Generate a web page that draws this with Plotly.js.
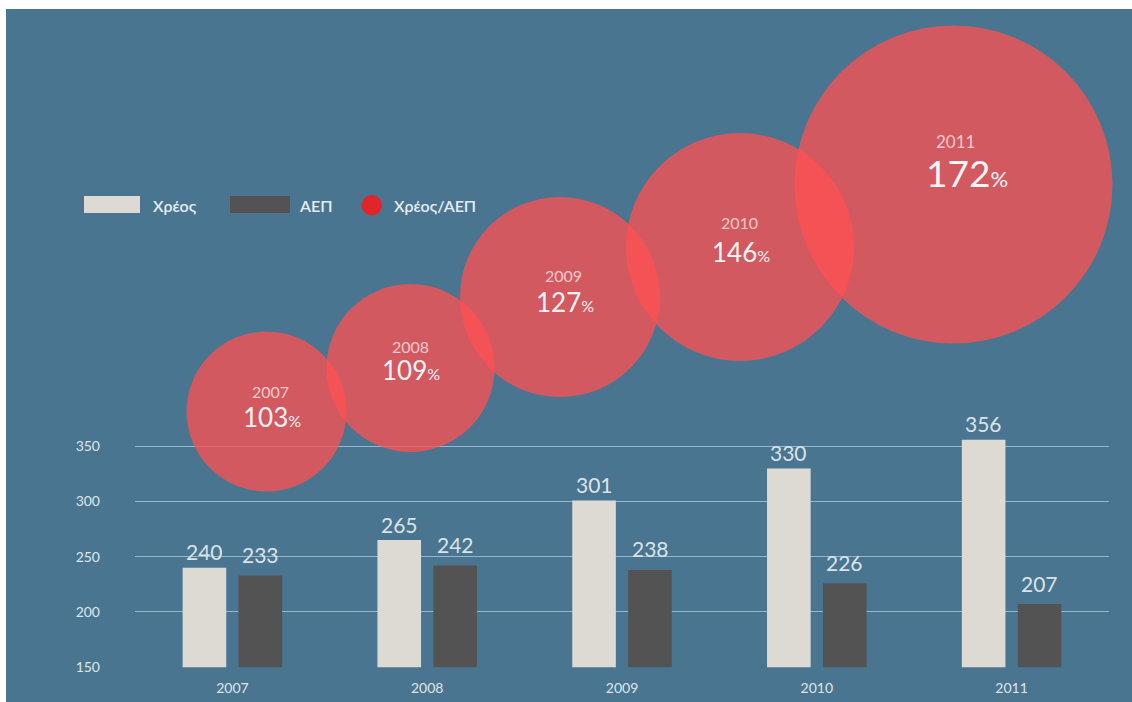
<!DOCTYPE html>
<html>
<head>
<meta charset="utf-8">
<script src="https://cdn.plot.ly/plotly-3.0.1.min.js"></script>
<style>
  html, body { margin:0; padding:0; background:#ffffff; width:1132px; height:702px; overflow:hidden; }
  #chart { position:absolute; left:6px; top:9px; width:1126px; height:693px; }
</style>
</head>
<body>
<div id="chart"></div>
<script>
// ---------------- DATA ----------------
const years = [2007, 2008, 2009, 2010, 2011];
const debt  = [240, 265, 301, 330, 356];   // Χρέος
const gdp   = [233, 242, 238, 226, 207];   // ΑΕΠ
const ratio = [103, 109, 127, 146, 172];   // Χρέος/ΑΕΠ (%)
const yTicks = [150, 200, 250, 300, 350];
const seriesNames = ['Χρέος', 'ΑΕΠ', 'Χρέος/ΑΕΠ'];

// ---------------- LAYOUT / STYLE (image pixel units) ----------------
const bubbleCx = [266.5, 410.5, 560, 740, 953.5];
const bubbleCy = [411.5, 368, 297, 247, 184.5];
const bubbleD  = [160, 168, 200, 228, 318];
const yearOff  = [[3.5, -20], [0, -22], [3, -22], [-1, -25], [1.5, -43]];
const valOff   = [[5.5, 5], [0.5, 2], [4.5, 4.7], [0.7, 4.7], [13.5, -12]];
const valFont  = [26, 26, 26, 26, 37];
const yearFont = [16, 16, 16, 16, 17];
const debtLabelShift = 16, gdpLabelShift = 21;

const BG = '#4a7591';
const FONT = 'Lato, "Open Sans", sans-serif';
const LIGHT = '#dcdad3';
const DARK = '#545353';
const W = 1126, H = 693, OX = 6, OY = 9;
const px = x => (x - OX) / W;
const py = y => 1 - (y - OY) / H;

const traces = [
  { type:'bar', name:seriesNames[0], x:years, y:debt, marker:{color:LIGHT, line:{width:0}},
    hoverinfo:'skip', showlegend:false },
  { type:'bar', name:seriesNames[1], x:years, y:gdp, marker:{color:DARK, line:{width:0}},
    hoverinfo:'skip', showlegend:false },
  { type:'scatter', mode:'markers', name:seriesNames[2], xaxis:'x2', yaxis:'y2',
    x:bubbleCx, y:bubbleCy, cliponaxis:false, hoverinfo:'skip', showlegend:false,
    marker:{size:bubbleD, sizemode:'diameter', color:'rgb(255,80,82)', opacity:0.76, line:{width:0}} }
];

const annotations = [];
// bar value labels
years.forEach((yr, i) => {
  annotations.push({ xref:'x', yref:'y', x:yr, y:debt[i], xshift:-28, yshift:debtLabelShift, text:String(debt[i]),
    showarrow:false, xanchor:'center', yanchor:'middle', font:{family:FONT, size:21, color:'#dbe3e8'} });
  annotations.push({ xref:'x', yref:'y', x:yr, y:gdp[i], xshift:28, yshift:gdpLabelShift, text:String(gdp[i]),
    showarrow:false, xanchor:'center', yanchor:'middle', font:{family:FONT, size:21, color:'#dbe3e8'} });
});
// bubble labels
years.forEach((yr, i) => {
  annotations.push({ xref:'x2', yref:'y2', x:bubbleCx[i] + yearOff[i][0], y:bubbleCy[i] + yearOff[i][1],
    text:String(yr), showarrow:false, xanchor:'center', yanchor:'middle',
    font:{family:FONT, size:yearFont[i], color:'#f6caca'} });
  const pct = Math.round(valFont[i] * 0.6);
  annotations.push({ xref:'x2', yref:'y2', x:bubbleCx[i] + valOff[i][0], y:bubbleCy[i] + valOff[i][1],
    text: ratio[i] + '<span style="font-size:' + pct + 'px">%</span>', showarrow:false,
    xanchor:'center', yanchor:'middle', font:{family:FONT, size:valFont[i], color:'#fff4f4'} });
});
// legend texts
const legFont = {family:FONT, size:16, color:'#e6edf1', weight:600};
annotations.push({ xref:'paper', yref:'paper', x:px(150.5), y:py(205), text:seriesNames[0], showarrow:false,
  xanchor:'left', yanchor:'middle', font:legFont });
annotations.push({ xref:'paper', yref:'paper', x:px(296.5), y:py(205), text:seriesNames[1], showarrow:false,
  xanchor:'left', yanchor:'middle', font:legFont });
annotations.push({ xref:'paper', yref:'paper', x:px(391.5), y:py(205), text:seriesNames[2], showarrow:false,
  xanchor:'left', yanchor:'middle', font:legFont });

const shapes = [
  { type:'rect', xref:'paper', yref:'paper', x0:px(84), x1:px(140), y0:py(196), y1:py(213),
    fillcolor:LIGHT, line:{width:0} },
  { type:'rect', xref:'paper', yref:'paper', x0:px(230), x1:px(290), y0:py(196), y1:py(213),
    fillcolor:DARK, line:{width:0} },
  { type:'circle', xref:'paper', yref:'paper', x0:px(361.5), x1:px(382), y0:py(195), y1:py(215.5),
    fillcolor:'#e0262b', line:{width:0} }
];

const layout = {
  width:W, height:H,
  margin:{l:0, r:0, t:0, b:0, pad:0},
  paper_bgcolor:BG, plot_bgcolor:'rgba(0,0,0,0)',
  font:{family:FONT, color:'#dfe6ea'},
  showlegend:false,
  barmode:'group', bargap:0.426, bargroupgap:0.22,
  xaxis:{ type:'linear', domain:[px(135), px(1109)], range:[years[0] - 0.5, years[years.length - 1] + 0.5],
    tickvals:years, ticktext:years.map(String), showgrid:false, zeroline:false, showline:false,
    ticks:'', tickfont:{family:FONT, size:14, color:'#dfe6ea'}, ticklabelstandoff:11, fixedrange:true },
  yaxis:{ domain:[py(667.3), 1], range:[149.7, 149.7 + (667.3 - 9) / 1.103], tickvals:yTicks,
    showgrid:true, gridcolor:'#93b7cc', gridwidth:1, zeroline:false, showline:false, ticks:'',
    tickfont:{family:FONT, size:14, color:'#dfe6ea'}, ticklabelstandoff:34, fixedrange:true },
  xaxis2:{ anchor:'y2', domain:[0,1], range:[OX, OX + W], visible:false, fixedrange:true },
  yaxis2:{ anchor:'x2', domain:[0,1], range:[OY + H, OY], visible:false, fixedrange:true },
  annotations, shapes
};

Plotly.newPlot('chart', traces, layout, {displayModeBar:false, staticPlot:true});
</script>
</body>
</html>
